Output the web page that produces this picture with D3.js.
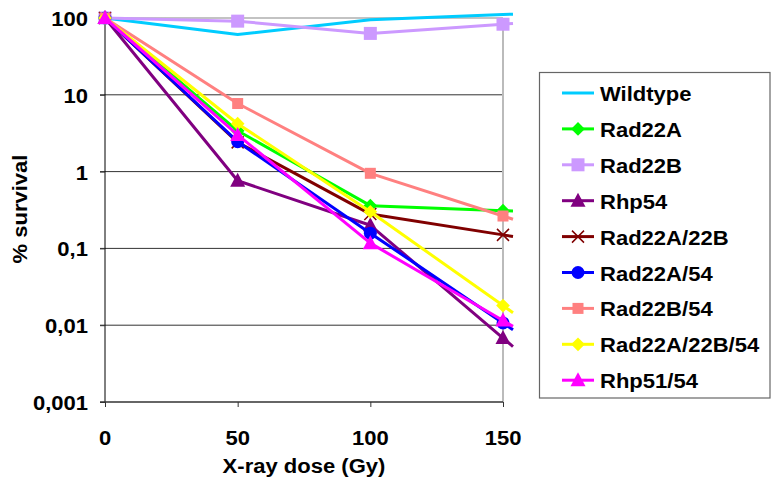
<!DOCTYPE html>
<html><head><meta charset="utf-8">
<script src="https://cdn.jsdelivr.net/npm/d3@7"></script>
<style>
html,body{margin:0;padding:0;background:#fff;}
svg text{font-family:"Liberation Sans",Arial,sans-serif;font-weight:bold;fill:#000;}
</style></head>
<body>
<script>
// ---- data ----
const doses = [0, 50, 100, 150];
const seriesNames = ["Wildtype","Rad22A","Rad22B","Rhp54","Rad22A/22B","Rad22A/54","Rad22B/54","Rad22A/22B/54","Rhp51/54"];
const wildtype    = [100, 61, 95, 111];
const rad22A      = [100, 3.4, 0.36, 0.31];
const rad22B      = [100, 91, 63, 83];
const rhp54       = [100, 0.76, 0.2, 0.0068];
const rad22A22B   = [100, 2.4, 0.28, 0.15];
const rad22A54    = [100, 2.45, 0.158, 0.0107];
const rad22B54    = [100, 7.7, 0.95, 0.264];
const rad22A22B54 = [100, 4.2, 0.30, 0.018];
const rhp5154     = [100, 3.0, 0.117, 0.0115];
const yTickValues = [100, 10, 1, 0.1, 0.01, 0.001];
const yTickLabels = ["100","10","1","0,1","0,01","0,001"];
const xTickValues = [0, 50, 100, 150];
const xTitle = "X-ray dose (Gy)";
const yTitle = "% survival";

const seriesValues = [wildtype, rad22A, rad22B, rhp54, rad22A22B, rad22A54, rad22B54, rad22A22B54, rhp5154];
const colors  = ["#00CCFF","#00FF00","#CC99FF","#800080","#800000","#0000FF","#FF8080","#FFFF00","#FF00FF"];
const markers = ["none","diamond","square","triangle","x","circle","squareS","diamond","triangle"];

const W = 771, H = 479;
const svg = d3.select("body").append("svg").attr("width", W).attr("height", H);
const x = d3.scaleLinear().domain([0,150]).range([105, 503]);
const y = d3.scaleLog().domain([0.001,100]).range([402, 18]);
const SX = 1.13;

// gridlines
const grid = svg.append("g");
grid.selectAll("line.g").data(yTickValues.filter(v=>v<100 && v>0.001)).enter().append("line")
  .attr("x1", 100).attr("x2", x(150)).attr("y1", d=>y(d)).attr("y2", d=>y(d))
  .attr("stroke", "#333").attr("stroke-width", 1);
// top border
svg.append("line").attr("x1", x(0)).attr("x2", x(150)).attr("y1", y(100)).attr("y2", y(100))
  .attr("stroke","#888").attr("stroke-width",1.2);
svg.append("line").attr("x1", 100).attr("x2", x(0)).attr("y1", y(100)).attr("y2", y(100))
  .attr("stroke","#333").attr("stroke-width",1);
// right border
svg.append("line").attr("x1", x(150)).attr("x2", x(150)).attr("y1", y(100)).attr("y2", y(0.001))
  .attr("stroke","#BBB").attr("stroke-width",2);

// y axis
const yAxis = d3.axisLeft(y).tickValues(yTickValues).tickSize(5).tickFormat("");
const ya = svg.append("g").attr("transform", `translate(${x(0)},0)`).call(yAxis);
ya.select(".domain").attr("stroke","#000").attr("d", `M0,${y(100)}V${y(0.001)}`);
ya.selectAll(".tick line").attr("stroke","#333");
// x axis
const xAxis = d3.axisBottom(x).tickValues(xTickValues).tickSize(5).tickFormat("");
const xa = svg.append("g").attr("transform", `translate(0,${y(0.001)})`).call(xAxis);
xa.select(".domain").attr("stroke","#333").attr("stroke-width",1.5).attr("d", `M${x(0)-5},0H${x(150)}`);
xa.selectAll(".tick line").attr("stroke","#333");

// tick labels (scaled text)
function stext(parent, tx, ty, str, size, anchor, rot) {
  return parent.append("text")
    .attr("transform", `translate(${tx},${ty})` + (rot ? ` rotate(${rot})` : "") + ` scale(${SX},1)`)
    .attr("text-anchor", anchor).attr("dominant-baseline","central")
    .style("font-size", size + "px").text(str);
}
yTickValues.forEach((v,i)=> stext(svg, 88, y(v)+1, yTickLabels[i], 19.5, "end"));
xTickValues.forEach(v=> stext(svg, x(v), 438, String(v), 19.5, "middle"));
stext(svg, 304, 466, xTitle, 19.5, "middle");
stext(svg, 20, 209, yTitle, 19.5, "middle", -90);

// marker drawer
function drawMarker(g, type, cx, cy, color) {
  if (type === "none") return;
  if (type === "diamond") {
    g.append("path").attr("d", d3.symbol().type(d3.symbolDiamond2).size(120)())
      .attr("transform", `translate(${cx},${cy})`).attr("fill", color);
  } else if (type === "square") {
    g.append("rect").attr("x", cx-6.5).attr("y", cy-6.5).attr("width",13).attr("height",13).attr("fill", color);
  } else if (type === "squareS") {
    g.append("rect").attr("x", cx-5.5).attr("y", cy-5.5).attr("width",11).attr("height",11).attr("fill", color);
  } else if (type === "triangle") {
    g.append("path").attr("d", `M${cx},${cy-8}L${cx+7.5},${cy+6}L${cx-7.5},${cy+6}Z`).attr("fill", color);
  } else if (type === "circle") {
    g.append("circle").attr("cx", cx).attr("cy", cy).attr("r", 6.5).attr("fill", color);
  } else if (type === "x") {
    g.append("path").attr("d", `M${cx-6},${cy-6}L${cx+6},${cy+6}M${cx-6},${cy+6}L${cx+6},${cy-6}`)
      .attr("stroke", color).attr("stroke-width", 1.5).attr("fill","none");
  }
}

// series (the reference's lines run on a little past the last point, along the last segment)
const EXT = 10;
seriesValues.forEach((vals,i)=>{
  const g = svg.append("g");
  const px = doses.map((d,j)=>[x(d), y(vals[j])]);
  const n = px.length;
  const a = px[n-2], b = px[n-1];
  const slope = (b[1]-a[1])/(b[0]-a[0]);
  const ext = [b[0]+EXT, b[1]+slope*EXT];
  g.append("path").attr("d", d3.line()(px.concat([ext]))).attr("fill","none")
    .attr("stroke", colors[i]).attr("stroke-width", 3).attr("stroke-linejoin","round");
  px.forEach(p=> drawMarker(g, markers[i], p[0], p[1], colors[i]));
});

// legend
const lg = svg.append("g");
lg.append("rect").attr("x", 539.5).attr("y", 72.5).attr("width", 230.5).attr("height", 325.5)
  .attr("fill","#fff").attr("stroke","#666").attr("stroke-width",1.2);
seriesNames.forEach((name,i)=>{
  const cy = 93 + i*35.9;
  lg.append("line").attr("x1",562).attr("x2",594).attr("y1",cy).attr("y2",cy)
    .attr("stroke", colors[i]).attr("stroke-width",3);
  drawMarker(lg, markers[i], 578, cy, colors[i]);
  stext(lg, 600, cy+1, name, 19.5, "start");
});
</script>
</body></html>
